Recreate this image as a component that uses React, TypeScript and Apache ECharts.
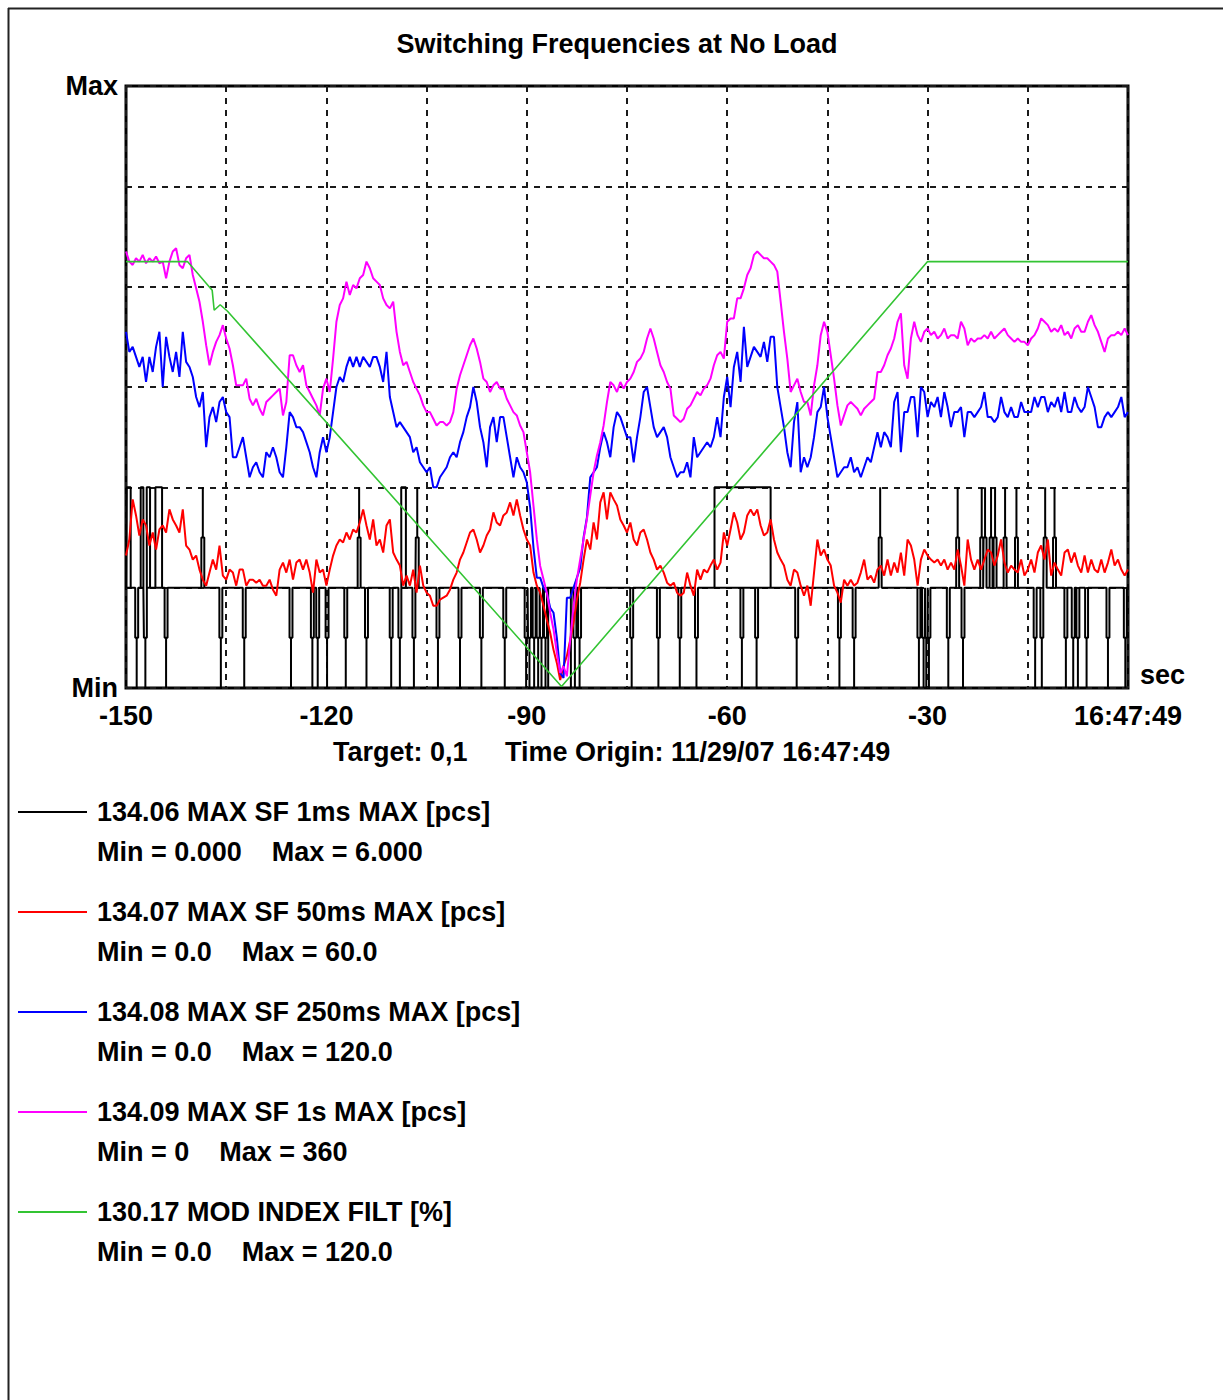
import React, { useEffect, useRef } from "react";
import * as echarts from "echarts";

const TITLE = "Switching Frequencies at No Load";
const TARGET_TEXT = "Target: 0,1";
const ORIGIN_TEXT = "Time Origin: 11/29/07 16:47:49";
const X_MIN = -150;
const X_MAX = 0;
const X_LABELED_TICKS = [-150, -120, -90, -60, -30];
const END_LABEL = "16:47:49";
const UNIT_LABEL = "sec";
const SAMPLE_START = -150;
const SAMPLE_STEP = 0.5;

const seriesNames = [
  "134.06 MAX SF 1ms MAX [pcs]",
  "134.07 MAX SF 50ms MAX [pcs]",
  "134.08 MAX SF 250ms MAX [pcs]",
  "134.09 MAX SF 1s MAX [pcs]",
  "130.17 MOD INDEX FILT [%]",
];
const seriesMinText = ["0.000", "0.0", "0.0", "0", "0.0"];
const seriesMaxText = ["6.000", "60.0", "120.0", "360", "120.0"];
const scaleMax = [6, 60, 120, 360, 120];
const seriesColors = ["#000000", "#ff0000", "#0000ff", "#ff00ff", "#33c433"];

// 134.07 (red), one value every 0.5 s from -150 s
const red = [
  13.2, 14.8, 18.8, 17.2, 15.2, 16.8, 16.2, 14.2, 15.5, 13.8,
  15.8, 16.2, 15.5, 17.8, 16.8, 16.2, 15.5, 17.8, 14.2, 13.8,
  12.8, 13.2, 11.8, 10.8, 10.2, 11.5, 12.8, 11.8, 14.2, 11.2,
  10.8, 11.8, 11.5, 10.2, 11.8, 11.8, 10.2, 10.8, 10.8, 10.5,
  10.8, 10.2, 10.2, 10.8, 9.8, 9.2, 11.8, 12.5, 11.5, 12.8,
  10.8, 12.5, 12.8, 11.8, 12.8, 11.5, 9.5, 12.8, 11.5, 11.8,
  10.2, 11.8, 13.2, 14.2, 14.8, 14.5, 15.5, 14.8, 15.8, 15.5,
  16.5, 17.8, 16.2, 14.8, 16.8, 14.2,
  14.8, 13.5, 16.2, 16.8, 13.5, 12.8, 12.2, 10.2, 11.2, 10.2,
  11.8, 9.5, 12.2, 10.2, 9.5, 9.2, 8.2, 8.2, 8.8, 9.0,
  9.2, 9.8, 10.8, 11.5, 12.8, 13.5, 14.5, 15.5, 15.8, 14.8,
  13.5, 14.2, 15.2, 15.8, 17.5, 16.5, 16.2, 17.2, 17.5, 18.5,
  17.2, 18.8, 17.2, 15.8, 14.8, 14.2, 11.5, 10.2, 9.5, 8.2,
  6.8, 5.5, 3.8, 2.5, 0.8, 2.2, 3.2, 4.8, 6.5, 8.8,
  10.5, 12.8, 14.8, 13.8, 16.5, 14.8, 18.5, 19.5, 16.8, 19.5,
  18.8, 18.2, 16.8, 16.2, 15.5,
  16.5, 14.8, 14.2, 15.5, 15.8, 14.8, 13.5, 12.8, 11.8, 12.2,
  11.5, 10.5, 10.2, 10.5, 9.5, 9.2, 9.5, 11.5, 10.2, 9.2,
  11.8, 10.8, 11.8, 11.5, 12.2, 12.8, 11.8, 12.5, 15.5, 14.2,
  15.8, 17.5, 16.5, 14.8, 15.5, 17.2, 17.8, 17.2, 17.8, 16.2,
  15.2, 15.5, 16.8, 14.8, 13.5, 12.8, 12.2, 10.8, 10.2, 11.8,
  11.5, 10.2, 9.2, 10.2, 8.2, 11.5, 14.8, 13.2, 13.8, 12.8,
  12.2, 10.2, 9.5, 8.5, 10.8, 10.2, 10.8, 10.2, 10.5, 11.5,
  12.8, 10.8, 11.2, 10.5, 11.8,
  12.2, 11.2, 12.8, 11.2, 12.5, 11.5, 13.5, 11.2, 14.8, 14.2,
  12.8, 10.2, 12.8, 13.8, 13.2, 12.8, 12.5, 12.8, 12.2, 12.8,
  11.8, 12.5, 11.8, 13.8, 12.2, 10.2, 14.8, 12.8, 11.8, 12.8,
  11.8, 12.8, 13.8, 13.5, 12.2, 13.2, 14.8, 12.5, 11.5, 12.2,
  11.8, 11.5, 12.8, 11.2, 11.8, 12.8, 11.5, 13.5, 14.2, 12.8,
  14.8, 11.2, 12.5, 11.8, 11.2, 13.5, 13.8, 12.5, 13.5, 12.2,
  11.5, 13.2, 11.5, 12.8, 11.8, 11.5, 12.8, 11.5, 12.5, 13.8,
  12.2, 12.8, 11.8, 11.2, 11.8,
];

// 134.08 (blue), one value every 0.5 s from -150 s
const blue = [
  71, 67, 68, 66, 64, 66, 61, 66, 63, 68,
  71, 60, 70, 66, 63, 67, 62, 71, 65, 64,
  62, 58, 56, 59, 48, 54, 56, 53, 57, 58,
  55, 54, 46, 46, 48, 50, 46, 42, 44, 45,
  43, 42, 47, 46, 48, 46, 43, 42, 48, 55,
  54, 52, 52, 51, 49, 47, 44, 42, 47, 50,
  47, 50, 55, 60, 62, 61, 64, 66, 64, 66,
  64, 66, 65, 64, 66, 66,
  64, 61, 67, 58, 55, 52, 53, 52, 51, 50,
  47, 48, 45, 44, 43, 44, 40, 40, 42, 43,
  44, 46, 47, 46, 49, 51, 54, 56, 60, 57,
  52, 49, 44, 52, 54, 49, 54, 54, 50, 46,
  42, 46, 44, 43, 41, 36, 28, 22, 22, 20,
  19, 16, 15, 10, 3, 2, 18, 18, 20, 22,
  24, 30, 34, 42, 43, 44, 48, 51, 49, 46,
  52, 55, 54, 52, 50,
  50, 45, 50, 54, 59, 60, 56, 52, 50, 51,
  52, 50, 46, 44, 42, 43, 43, 45, 42, 50,
  46, 47, 48, 49, 48, 50, 54, 50, 58, 62,
  56, 64, 67, 61, 72, 64, 66, 68, 67, 66,
  69, 65, 70, 70, 60, 56, 52, 47, 44, 53,
  57, 43, 46, 44, 46, 50, 55, 56, 60, 54,
  50, 46, 42, 43, 44, 44, 46, 43, 44, 42,
  44, 46, 45, 48, 51,
  48, 51, 50, 48, 57, 59, 47, 55, 55, 58,
  58, 50, 60, 59, 54, 57, 56, 58, 54, 59,
  56, 52, 55, 55, 56, 50, 55, 55, 54, 55,
  56, 59, 54, 54, 53, 54, 58, 55, 54, 56,
  54, 54, 57, 55, 55, 55, 58, 56, 58, 58,
  55, 57, 56, 58, 55, 59, 55, 55, 58, 56,
  55, 56, 60, 58, 56, 52, 52, 54, 55, 54,
  55, 56, 58, 54, 55,
];

// 134.09 (magenta), one value every 0.5 s from -150 s
const magenta = [
  261, 255, 253, 257, 255, 259, 254, 257, 255, 258,
  254, 255, 245, 255, 261, 263, 253, 251, 257, 259,
  247, 239, 231, 219, 205, 193, 201, 207, 211, 217,
  209, 203, 193, 181, 181, 181, 185, 173, 169, 173,
  167, 163, 171, 173, 175, 177, 179, 163, 171, 199,
  199, 193, 189, 193, 181, 177, 173, 169, 163, 179,
  185, 177, 197, 219, 229, 233, 243, 235, 241, 239,
  245, 247, 255, 251, 245, 243,
  241, 233, 229, 227, 231, 213, 201, 193, 195, 189,
  183, 179, 175, 169, 165, 165, 161, 157, 159, 159,
  157, 159, 165, 179, 187, 193, 199, 205, 209, 203,
  195, 185, 183, 177, 181, 183, 179, 179, 173, 169,
  165, 163, 157, 153, 141, 129, 109, 89, 73, 65,
  57, 45, 35, 21, 9, 13, 7, 29, 49, 65,
  77, 89, 101, 115, 129, 139, 147, 157, 171, 183,
  181, 177, 183, 179, 183,
  185, 189, 195, 197, 201, 209, 215, 209, 201, 193,
  189, 183, 179, 163, 161, 159, 161, 167, 169, 173,
  177, 175, 179, 181, 185, 193, 199, 201, 197, 219,
  221, 221, 233, 233, 239, 247, 251, 259, 261, 259,
  257, 257, 255, 253, 249, 231, 213, 197, 177, 181,
  185, 177, 171, 171, 163, 181, 193, 211, 219, 213,
  199, 185, 169, 157, 163, 169, 171, 169, 167, 163,
  167, 169, 171, 173, 189,
  189, 193, 199, 203, 209, 219, 224, 193, 185, 209,
  219, 211, 207, 213, 215, 211, 213, 209, 211, 215,
  209, 211, 211, 209, 219, 215, 205, 209, 207, 209,
  209, 211, 209, 213, 209, 211, 213, 215, 211, 209,
  207, 209, 207, 207, 205, 209, 211, 215, 221, 219,
  217, 213, 215, 213, 217, 211, 213, 209, 215, 217,
  213, 213, 219, 223, 217, 213, 207, 201, 209, 211,
  211, 213, 211, 215, 211,
];

// 130.17 (green) breakpoints [time s, %]
const green: [number, number][] = [
  [-150, 85], [-140.8, 85], [-137.1, 79.3], [-136.8, 75.3], [-135.9, 76.4],
  [-134.8, 75.1], [-84.8, 0.3], [-30, 85], [0, 85],
];

// 134.06 (black): baseline 1, short pulses and longer spans
const blackBaseline = 1;
const blackUpPulses = [-138.5, -115.1, -106.4, -37.1, -25.5, -21.9, -21.4, -20.5, -19.9, -18.4, -16.7, -12.4, -11.0];
const blackDownPulses = [
  -148.4, -147.1, -144.0, -135.8, -132.3, -125.3, -122.1, -121.3, -119.9, -117.1,
  -114.0, -110.3, -109.0, -106.9, -103.3, -100.0, -96.8, -93.3, -90.1, -89.6,
  -88.9, -88.3, -87.8, -87.2, -82.8, -82.1, -74.3, -70.3, -67.1, -64.6,
  -57.8, -55.6, -49.6, -43.2, -41.0, -31.3, -30.6, -30.2, -29.8, -26.9,
  -24.7, -13.9, -12.9, -9.3, -8.2, -7.5, -6.2, -3.0, -0.4,
];
const blackSpans: [number, number, number][] = [
  [-149.9, -149.3, 2], [-147.8, -147.4, 2], [-146.9, -146.4, 2], [-145.6, -144.6, 2],
  [-108.8, -108.1, 2], [-86.8, -83.4, 0], [-61.9, -53.5, 2],
];

const FONT_FAMILY = '"Liberation Sans", Arial, sans-serif';
const FONT_SIZE = 27;
const FONT = `bold ${FONT_SIZE}px ${FONT_FAMILY}`;

function sampled(values: number[]): [number, number][] {
  return values.map((v, i) => [SAMPLE_START + i * SAMPLE_STEP, v]);
}

function buildBlack(): [number, number][] {
  type Ev = { start: number; kind: "pulse" | "span"; t0: number; t1: number; level: number };
  const half = 0.22;
  const evs: Ev[] = [];
  blackUpPulses.forEach((t) => evs.push({ start: t - half, kind: "pulse", t0: t, t1: t, level: 2 }));
  blackDownPulses.forEach((t) => evs.push({ start: t - half, kind: "pulse", t0: t, t1: t, level: 0 }));
  blackSpans.forEach(([a, b, l]) => evs.push({ start: a, kind: "span", t0: a, t1: b, level: l }));
  evs.sort((a, b) => a.start - b.start);
  const b = blackBaseline;
  const pts: [number, number][] = [[X_MIN, b]];
  evs.forEach((e) => {
    if (e.kind === "pulse") {
      const mid = (b + e.level) / 2;
      const t = e.t0;
      pts.push([t - half, b], [t - half, mid], [t, mid], [t, e.level], [t, mid], [t + half, mid], [t + half, b]);
    } else {
      pts.push([e.t0, b], [e.t0, e.level], [e.t1, e.level], [e.t1, b], [e.t0, b], [e.t1, b]);
    }
  });
  pts.push([X_MAX, b]);
  return pts;
}

function measure(text: string): number {
  const ctx = document.createElement("canvas").getContext("2d");
  if (!ctx) return text.length * 14;
  ctx.font = FONT;
  return ctx.measureText(text).width;
}

export default function App() {
  const ref = useRef<HTMLDivElement>(null);

  useEffect(() => {
    if (!ref.current) return;
    const chart = echarts.init(ref.current, undefined, { renderer: "svg" });

    const dashStyle = { color: "#1a1a1a", width: 2, type: [6, 6] as number[] };
    const textBase = { fontFamily: FONT_FAMILY, fontWeight: "bold" as const, fontSize: FONT_SIZE, color: "#000" };

    const seriesData: [number, number][][] = [
      buildBlack(),
      sampled(red),
      sampled(blue),
      sampled(magenta),
      green,
    ];

    const legendGraphics: any[] = [];
    seriesNames.forEach((name, i) => {
      const y = 812 + i * 100;
      legendGraphics.push({
        type: "line",
        shape: { x1: 18, y1: y, x2: 87, y2: y },
        style: { stroke: seriesColors[i], lineWidth: 2 },
      });
      legendGraphics.push({
        type: "text",
        x: 97,
        y,
        style: { text: name, font: FONT, fill: "#000", verticalAlign: "middle", align: "left" },
      });
      const minText = `Min = ${seriesMinText[i]}`;
      legendGraphics.push({
        type: "text",
        x: 97,
        y: y + 40,
        style: { text: minText, font: FONT, fill: "#000", verticalAlign: "middle", align: "left" },
      });
      legendGraphics.push({
        type: "text",
        x: 97 + measure(minText) + 30,
        y: y + 40,
        style: { text: `Max = ${seriesMaxText[i]}`, font: FONT, fill: "#000", verticalAlign: "middle", align: "left" },
      });
    });

    const option: any = {
      animation: false,
      backgroundColor: "#ffffff",
      title: {
        text: TITLE,
        left: 617,
        top: 30,
        textAlign: "center",
        padding: 0,
        textStyle: { ...textBase },
      },
      grid: {
        left: 126,
        top: 86,
        width: 1002,
        height: 602,
        show: true,
        borderColor: "#000",
        borderWidth: 3,
        backgroundColor: "transparent",
        containLabel: false,
      },
      xAxis: {
        type: "value",
        min: X_MIN,
        max: X_MAX,
        interval: 15,
        axisLine: { show: false },
        axisTick: { show: false },
        splitLine: { show: true, lineStyle: dashStyle },
        axisLabel: {
          interval: 0,
          showMinLabel: true,
          showMaxLabel: true,
          margin: 14,
          ...textBase,
          formatter: (v: number) => (v === X_MAX ? END_LABEL : X_LABELED_TICKS.includes(v) ? String(v) : ""),
        },
      },
      yAxis: scaleMax.map((mx, i) =>
        i === 0
          ? {
              type: "value",
              min: 0,
              max: mx,
              interval: 1,
              axisLine: { show: false },
              axisTick: { show: false },
              splitLine: { show: true, lineStyle: dashStyle },
              axisLabel: {
                margin: 8,
                ...textBase,
                formatter: (v: number) => (v === 0 ? "Min" : v === mx ? "Max" : ""),
              },
            }
          : { type: "value", min: 0, max: mx, show: false, splitLine: { show: false } }
      ),
      series: seriesNames.map((name, i) => ({
        name,
        type: "line",
        yAxisIndex: i,
        data: seriesData[i],
        showSymbol: false,
        symbol: "none",
        clip: true,
        lineStyle: { color: seriesColors[i], width: i === 4 ? 1.6 : 2 },
        itemStyle: { color: seriesColors[i] },
        emphasis: { disabled: true },
        z: 2 + i,
      })),
      graphic: [
        { type: "line", shape: { x1: 8, y1: 8.5, x2: 1223, y2: 8.5 }, style: { stroke: "#222", lineWidth: 2 } },
        { type: "line", shape: { x1: 8.5, y1: 8, x2: 8.5, y2: 1400 }, style: { stroke: "#222", lineWidth: 2 } },
        {
          type: "text",
          x: 1140,
          y: 675,
          style: { text: UNIT_LABEL, font: FONT, fill: "#000", verticalAlign: "middle", align: "left" },
        },
        {
          type: "text",
          x: 333,
          y: 752,
          style: { text: TARGET_TEXT, font: FONT, fill: "#000", verticalAlign: "middle", align: "left" },
        },
        {
          type: "text",
          x: 505,
          y: 752,
          style: { text: ORIGIN_TEXT, font: FONT, fill: "#000", verticalAlign: "middle", align: "left" },
        },
        ...legendGraphics,
      ],
    };

    chart.setOption(option);
    return () => chart.dispose();
  }, []);

  return (
    <div
      ref={ref}
      style={{ position: "fixed", left: 0, top: 0, width: 1223, height: 1400, background: "#fff" }}
    />
  );
}
